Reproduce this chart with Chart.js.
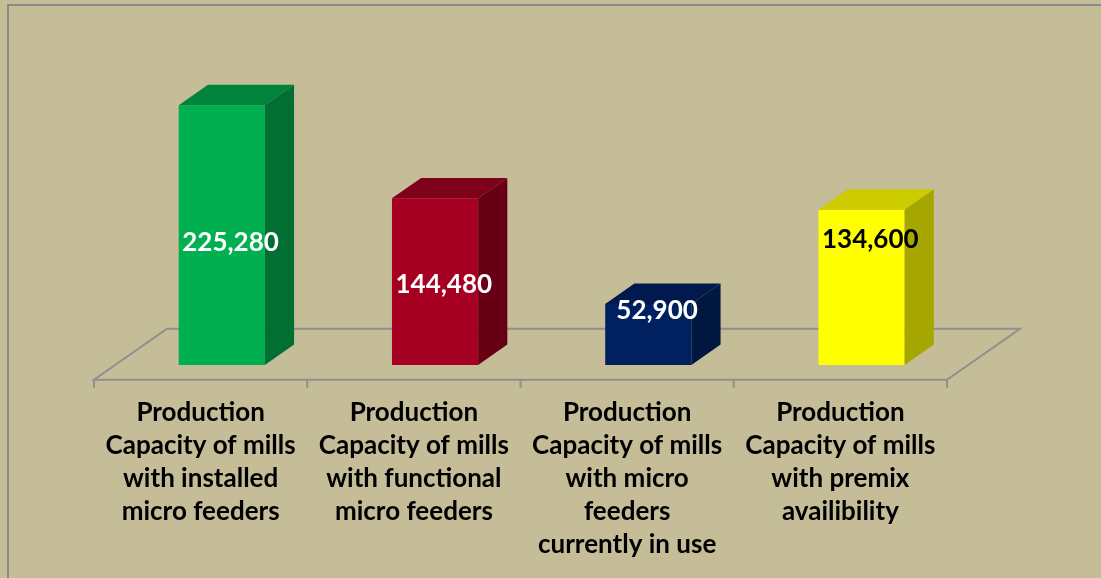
<!DOCTYPE html>
<html>
<head>
<meta charset="utf-8">
<script src="https://cdn.jsdelivr.net/npm/chart.js@4/dist/chart.umd.min.js"></script>
<style>
  html, body { margin: 0; padding: 0; width: 1101px; height: 578px; overflow: hidden; background: #c4bd97; }
  #frame { position: absolute; left: 7px; top: 4px; width: 1200px; height: 700px; border-left: 2px solid #8a8a8a; border-top: 2px solid #8a8a8a; }
  #chart { position: absolute; left: 0; top: 0; }
</style>
</head>
<body>
<div id="frame"></div>
<canvas id="chart" width="1101" height="578"></canvas>
<script>
const categories = [
    ["Production", "Capacity of mills", "with installed", "micro feeders"],
    ["Production", "Capacity of mills", "with functional", "micro feeders"],
    ["Production", "Capacity of mills", "with micro", "feeders", "currently in use"],
    ["Production", "Capacity of mills", "with premix", "availibility"],
];
const capacity = [225280, 144480, 52900, 134600];

const frontColors = ["#00b050", "#a50021", "#002060", "#ffff00"];
const topColors = ["#00843b", "#7f0019", "#001a4f", "#cccc00"];
const sideColors = ["#006f31", "#680015", "#00183f", "#a6a600"];
const labelColors = ["#ffffff", "#ffffff", "#ffffff", "#000000"];

// 3d look: floor drawn behind, bars pushed back into it, top/side faces added
const bar3d = {
    id: "bar3d",
    beforeDatasetsDraw(chart, args, opts) {
        const { ctx, chartArea: a, scales: { x } } = chart;
        const dx = opts.floor.dx, dy = opts.floor.dy;
        const frontY = a.bottom - dy * opts.front;
        ctx.save();
        ctx.strokeStyle = opts.lineColor;
        ctx.lineWidth = 2;
        ctx.beginPath();
        ctx.moveTo(a.left, frontY);
        ctx.lineTo(a.left + dx, frontY + dy);
        ctx.lineTo(a.right + dx, frontY + dy);
        ctx.lineTo(a.right, frontY);
        ctx.closePath();
        const n = x.ticks.length;
        for (let i = 0; i <= n; i++) {
            const px = a.left + (i * (a.right - a.left)) / n;
            ctx.moveTo(px, frontY);
            ctx.lineTo(px, frontY + 8);
        }
        ctx.stroke();
        ctx.restore();

        ctx.save();
        ctx.translate(dx * opts.front, 0);
    },
    afterDatasetsDraw(chart, args, opts) {
        const { ctx } = chart;
        const bdx = opts.floor.dx * opts.depth;
        const bdy = opts.floor.dy * opts.depth;
        const meta = chart.getDatasetMeta(0);
        meta.data.forEach((el, i) => {
            const x0 = el.x - el.width / 2;
            const x1 = el.x + el.width / 2;
            const top = el.y, bottom = el.base;
            ctx.fillStyle = topColors[i];
            ctx.beginPath();
            ctx.moveTo(x0, top);
            ctx.lineTo(x0 + bdx, top + bdy);
            ctx.lineTo(x1 + bdx, top + bdy);
            ctx.lineTo(x1, top);
            ctx.closePath();
            ctx.fill();
            ctx.fillStyle = sideColors[i];
            ctx.beginPath();
            ctx.moveTo(x1, top);
            ctx.lineTo(x1 + bdx, top + bdy);
            ctx.lineTo(x1 + bdx, bottom + bdy);
            ctx.lineTo(x1, bottom);
            ctx.closePath();
            ctx.fill();
        });

        ctx.font = "bold 26px Lato";
        ctx.textAlign = "center";
        ctx.textBaseline = "middle";
        meta.data.forEach((el, i) => {
            const y = el.base - (el.base - el.y) * opts.labelAt[i];
            ctx.fillStyle = labelColors[i];
            ctx.fillText(capacity[i].toLocaleString("en-US"), el.x + bdx * 0.3, y);
        });
        ctx.restore();
    },
};

new Chart(document.getElementById("chart"), {
    type: "bar",
    data: {
        labels: categories,
        datasets: [
            {
                data: capacity,
                backgroundColor: frontColors,
                borderWidth: 0,
                barPercentage: 0.404,
                categoryPercentage: 1,
            },
        ],
    },
    options: {
        responsive: false,
        animation: false,
        devicePixelRatio: 1,
        layout: { padding: { left: 94, right: 154, top: 19, bottom: 0 } },
        plugins: {
            legend: { display: false },
            tooltip: { enabled: false },
            bar3d: {
                floor: { dx: 73, dy: -51 },
                front: 0.29,
                depth: 0.4,
                lineColor: "#8f8f8f",
                labelAt: [0.47, 0.48, 0.89, 0.81],
            },
        },
        scales: {
            x: {
                grid: { display: false, drawTicks: false },
                border: { display: false },
                ticks: {
                    color: "#000000",
                    padding: 31,
                    maxRotation: 0,
                    autoSkip: false,
                    font: { family: "Lato", weight: "bold", size: 26, lineHeight: "33px" },
                },
                afterFit(scale) {
                    scale.height = 213;
                },
            },
            y: {
                display: false,
                min: 0,
                max: 300000,
            },
        },
    },
    plugins: [bar3d],
});
</script>
</body>
</html>
